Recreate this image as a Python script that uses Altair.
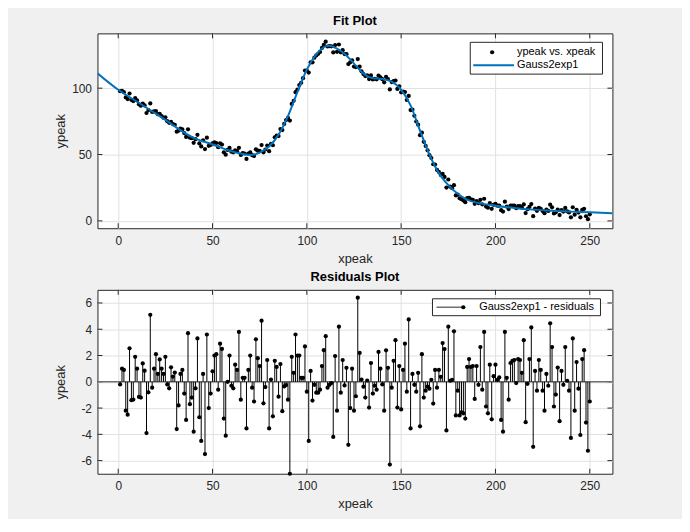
import altair as alt
import pandas as pd

# ---------------- data ----------------
xpeak = list(range(1, 251))
ypeak = [
    97.7, 98.0, 97.0, 93.0, 91.8, 96.0, 91.1, 90.3, 92.6, 90.8,
    87.8, 86.8, 88.4, 87.0, 81.3, 83.5, 88.5, 82.1, 82.6, 82.8,
    80.4, 80.6, 79.0, 77.7, 78.1, 75.1, 73.9, 74.6, 73.0, 72.4,
    67.2, 68.0, 69.5, 68.9, 66.2, 63.3, 69.0, 62.7, 62.3, 58.8,
    61.6, 64.9, 58.4, 56.1, 60.7, 54.1, 62.7, 56.6, 57.2, 58.4,
    59.1, 58.7, 55.5, 58.5, 57.5, 51.7, 49.9, 53.5, 55.0, 52.2,
    51.7, 53.2, 52.5, 55.1, 49.7, 51.1, 50.8, 46.7, 50.8, 51.6,
    49.5, 48.9, 53.9, 52.9, 52.7, 57.1, 51.7, 53.8, 56.8, 52.5,
    58.0, 57.0, 63.0, 64.3, 63.9, 69.2, 68.4, 73.1, 76.0, 77.6,
    75.6, 88.1, 90.5, 97.0, 99.0, 102.4, 104.1, 107.5, 113.3, 113.3,
    111.8, 119.4, 119.5, 123.0, 124.7, 125.9, 127.3, 130.3, 132.7, 135.0,
    131.4, 131.7, 131.5, 126.9, 132.5, 127.4, 132.9, 127.0, 128.6, 125.7,
    125.6, 118.2, 119.5, 121.0, 116.3, 115.9, 121.9, 116.2, 112.7, 110.6,
    109.1, 109.7, 106.9, 109.6, 106.6, 107.1, 106.7, 109.5, 108.1, 106.8,
    104.4, 108.6, 106.9, 99.1, 104.6, 105.4, 105.8, 99.4, 101.4, 96.9,
    97.5, 97.1, 91.1, 94.2, 83.5, 83.8, 79.2, 74.9, 72.5, 64.6,
    66.5, 59.6, 56.5, 53.2, 49.5, 47.4, 42.7, 42.5, 38.4, 36.9,
    34.6, 35.4, 33.1, 25.1, 31.2, 25.8, 24.6, 26.9, 19.2, 19.8,
    17.0, 16.4, 15.4, 14.1, 17.1, 17.3, 16.2, 15.9, 12.9, 15.0,
    13.4, 15.9, 12.5, 16.7, 10.8, 10.0, 13.5, 9.1, 12.1, 12.8,
    11.5, 11.5, 8.1, 7.0, 14.5, 10.8, 8.9, 11.5, 11.6, 11.5,
    9.6, 11.2, 11.1, 10.0, 12.4, 5.9, 8.8, 10.5, 12.7, 3.6,
    9.2, 7.6, 9.9, 9.0, 7.4, 5.8, 8.5, 7.5, 12.2, 10.2,
    5.6, 6.5, 8.5, 4.4, 8.1, 7.0, 9.8, 7.2, 6.4, 2.7,
    10.3, 4.7, 8.4, 6.3, 2.7, 8.4, 9.1, 3.5, 1.3, 5.0,
]
resid = [
    -0.2, 1.0, 0.9, -2.2, -2.5, 2.55, -1.4, -1.35, 1.9, 1.0,
    -1.15, -1.2, 1.4, 0.85, -3.9, -0.8, 5.1, -0.45, 1.0, 2.1,
    0.6, 1.7, 1.0, 0.6, 1.9, -0.2, -0.5, 1.1, 0.4, 0.7,
    -3.6, -1.8, 0.6, 0.9, -0.9, -2.9, 3.7, -1.7, -1.2, -3.8,
    -0.5, 3.3, -2.7, -4.5, 0.6, -5.5, 3.6, -2.0, -0.9, 0.8,
    2.0, 2.1, -0.6, 2.9, 2.5, -2.8, -4.1, 0.0, 2.0, -0.3,
    -0.5, 1.3, 0.9, 3.8, -1.36, 0.3, 0.3, -3.55, 0.9, 2.0,
    -0.45, -1.5, 3.24, 1.8, 1.2, 4.65, -1.64, -0.4, 1.66, -3.55,
    0.17, -2.63, 1.6, 1.13, -1.13, 1.35, -2.24, -0.35, -0.25, -1.36,
    -7.0, 1.9, 0.68, 3.6, 2.0, 2.0, 0.3, 0.3, 2.69, -0.75,
    -4.5, 0.83, -1.43, -0.23, -0.83, -0.83, -0.6, 1.2, 2.41, 3.47,
    -0.45, -0.23, -0.1, -4.2, 1.96, -2.2, 4.2, -0.83, 1.66, -0.28,
    1.06, -4.8, -2.0, 1.0, -2.2, -1.1, 6.4, 2.2, 0.17, -0.37,
    -1.2, 0.1, -1.96, 1.43, -0.9, -0.3, -0.6, 2.27, 1.0, -0.2,
    -2.2, 2.4, 1.06, -6.3, -0.45, 1.6, 3.17, -1.96, 1.2, -2.1,
    0.9, 2.9, -0.75, 4.75, -3.55, 0.6, -0.23, -0.75, 0.68, -3.39,
    2.1, -1.2, -0.68, -0.37, -0.52, 0.15, -1.66, 0.9, -0.45, 0.9,
    0.38, 2.95, 2.49, -3.7, 4.2, 0.08, 0.15, 3.84, -2.56, -0.68,
    -2.56, -2.33, -2.4, -2.8, 1.13, 1.73, 1.13, 1.2, -1.3, 1.2,
    -0.23, 2.64, -0.6, 3.8, -1.88, -2.4, 1.3, -2.86, 0.43, 1.3,
    0.15, 0.33, -2.9, -3.8, 3.8, 0.3, -1.36, 1.43, 1.6, 1.66,
    -0.1, 1.73, 1.66, 0.68, 3.17, -3.07, -0.15, 1.73, 4.14, -4.95,
    0.83, -0.68, 1.66, 0.9, -0.68, -2.2, 0.6, -0.3, 4.45, 2.64,
    -1.88, -0.97, 1.08, -3.0, 0.83, -0.23, 2.64, 0.08, -0.68, -4.27,
    3.3, -2.2, 1.5, -0.52, -4.05, 1.73, 2.41, -3.1, -5.25, -1.5,
]
fit_x = [-11, 0, 10, 23, 40, 50, 60, 65, 70, 75, 80, 85, 90, 95, 100, 105, 110,
         112, 115, 120, 125, 130, 135, 140, 145, 150, 155, 160, 165, 170, 175,
         180, 185, 190, 200, 210, 220, 230, 240, 250, 262]
fit_y = [111.2, 98.8, 89.8, 78.0, 62.6, 57.6, 52.5, 50.8, 49.6, 51.5, 56.0, 65.0,
         79.0, 97.0, 114.0, 125.5, 131.5, 131.9, 130.5, 126.0, 118.5, 111.0,
         107.5, 107.0, 105.0, 99.0, 87.0, 68.0, 50.0, 36.0, 27.0, 20.5, 16.0,
         13.8, 11.5, 9.8, 8.5, 7.6, 7.0, 6.5, 5.7]
x_ticks = [0, 50, 100, 150, 200, 250]
y_ticks_fit = [0, 50, 100]
y_ticks_res = [-6, -4, -2, 0, 2, 4, 6]
legend_fit = ["ypeak vs. xpeak", "Gauss2exp1"]
legend_res = ["Gauss2exp1 - residuals"]

# ---------------- style ----------------
W, H1, H2 = 518, 196, 185
FONT = "Liberation Sans"
AX = "#262626"
BLUE = "#0072BD"
TICK = 5
DOT = 18

df = pd.DataFrame({"xpeak": xpeak, "ypeak": ypeak, "resid": resid})
fit_df = pd.DataFrame({"xpeak": fit_x, "ypeak": fit_y})
xt_df = pd.DataFrame({"v": x_ticks})
yt1_df = pd.DataFrame({"v": y_ticks_fit})
yt2_df = pd.DataFrame({"v": y_ticks_res})
zero_df = pd.DataFrame({"z": [0]})

xs = alt.Scale(domain=[-11, 262], nice=False, zero=False)
ys1 = alt.Scale(domain=[-5.5, 141.3], nice=False, zero=False)
ys2 = alt.Scale(domain=[-7, 7], nice=False, zero=False)


def xaxis():
    return alt.Axis(values=x_ticks, title="xpeak", ticks=False, domain=False,
                    labelPadding=7, titlePadding=6, labelExpr="datum.value + ''")


def yaxis(vals):
    return alt.Axis(values=vals, title="ypeak", ticks=False, domain=False,
                    labelPadding=6, titlePadding=5, minExtent=25, maxExtent=25,
                    labelExpr="datum.value + ''")


X = lambda f: alt.X(f, scale=xs, axis=xaxis())
Y1 = lambda f: alt.Y(f, scale=ys1, axis=yaxis(y_ticks_fit))
Y2 = lambda f: alt.Y(f, scale=ys2, axis=yaxis(y_ticks_res))


def inner_ticks(ydf, yscale_fn, H):
    bx = alt.Chart(xt_df).mark_rule(color=AX, strokeWidth=1).encode(
        x=X("v:Q"), y=alt.value(H), y2=alt.value(H - TICK))
    tx = alt.Chart(xt_df).mark_rule(color=AX, strokeWidth=1).encode(
        x=X("v:Q"), y=alt.value(0), y2=alt.value(TICK))
    ly = alt.Chart(ydf).mark_rule(color=AX, strokeWidth=1).encode(
        y=yscale_fn("v:Q"), x=alt.value(0), x2=alt.value(TICK))
    ry = alt.Chart(ydf).mark_rule(color=AX, strokeWidth=1).encode(
        y=yscale_fn("v:Q"), x=alt.value(W - TICK), x2=alt.value(W))
    return [bx, tx, ly, ry]


one = alt.Data(values=[{"a": 1}])

# ---------------- fit plot ----------------
pts = alt.Chart(df).mark_circle(size=DOT, color="black", opacity=1).encode(
    x=X("xpeak:Q"), y=Y1("ypeak:Q"))
fit_line = alt.Chart(fit_df).mark_line(color=BLUE, strokeWidth=2,
                                       interpolate="monotone", clip=True).encode(
    x=X("xpeak:Q"), y=Y1("ypeak:Q"))

lg1_box = alt.Chart(one).mark_rect(fill="white", stroke=AX, strokeWidth=1).encode(
    x=alt.value(375), x2=alt.value(508), y=alt.value(9), y2=alt.value(41))
lg1_dot = alt.Chart(one).mark_circle(size=DOT, color="black", opacity=1).encode(
    x=alt.value(397), y=alt.value(19))
lg1_line = alt.Chart(one).mark_rule(color=BLUE, strokeWidth=2).encode(
    x=alt.value(378), x2=alt.value(419), y=alt.value(32))
lg1_txt = alt.Chart(alt.Data(values=[{"t": legend_fit[0], "yy": 19},
                                     {"t": legend_fit[1], "yy": 32}])).mark_text(
    align="left", baseline="middle", font=FONT, fontSize=11, color="black").encode(
    x=alt.value(422), y=alt.Y("yy:Q", scale=None), text="t:N")

top = alt.layer(
    *inner_ticks(yt1_df, Y1, H1), pts, fit_line,
    lg1_box, lg1_dot, lg1_line, lg1_txt
).properties(
    width=W, height=H1,
    title=alt.TitleParams("Fit Plot", font=FONT, fontSize=13, fontWeight="bold",
                          color="black", offset=5, anchor="middle"))

# ---------------- residual plot ----------------
zero = alt.Chart(zero_df).mark_rule(color="#707070", strokeWidth=1.5).encode(
    y=Y2("z:Q"))
stems = alt.Chart(df).mark_rule(color="black", strokeWidth=1).encode(
    x=X("xpeak:Q"), y=Y2("resid:Q"), y2=alt.datum(0))
rdots = alt.Chart(df).mark_circle(size=DOT, color="black", opacity=1).encode(
    x=X("xpeak:Q"), y=Y2("resid:Q"))

lg2_box = alt.Chart(one).mark_rect(fill="white", stroke=AX, strokeWidth=1).encode(
    x=alt.value(337), x2=alt.value(506), y=alt.value(9), y2=alt.value(26))
lg2_line = alt.Chart(one).mark_rule(color="#707070", strokeWidth=1.5).encode(
    x=alt.value(341), x2=alt.value(368), y=alt.value(17.5))
lg2_dot = alt.Chart(one).mark_circle(size=DOT, color="black", opacity=1).encode(
    x=alt.value(368), y=alt.value(17.5))
lg2_txt = alt.Chart(alt.Data(values=[{"t": legend_res[0]}])).mark_text(
    align="left", baseline="middle", font=FONT, fontSize=11, color="black").encode(
    x=alt.value(384), y=alt.value(17.5), text="t:N")

bottom = alt.layer(
    *inner_ticks(yt2_df, Y2, H2), zero, stems, rdots,
    lg2_box, lg2_line, lg2_dot, lg2_txt
).properties(
    width=W, height=H2,
    title=alt.TitleParams("Residuals Plot", font=FONT, fontSize=13,
                          fontWeight="bold", color="black", offset=5,
                          anchor="middle"))

chart = alt.vconcat(top, bottom, spacing=5).properties(
    padding={"left": 46, "top": 5, "right": 68, "bottom": 6}
).configure(background="#f0f0f0").configure_view(
    fill="white", stroke=AX, strokeWidth=1
).configure_axis(
    labelFont=FONT, labelFontSize=12, labelColor=AX,
    titleFont=FONT, titleFontSize=13, titleColor=AX, titleFontWeight="normal",
    grid=True, gridColor="#e1e1e1", gridWidth=1
)

chart.save("out.html", embed_options={"renderer": "svg", "actions": False})
